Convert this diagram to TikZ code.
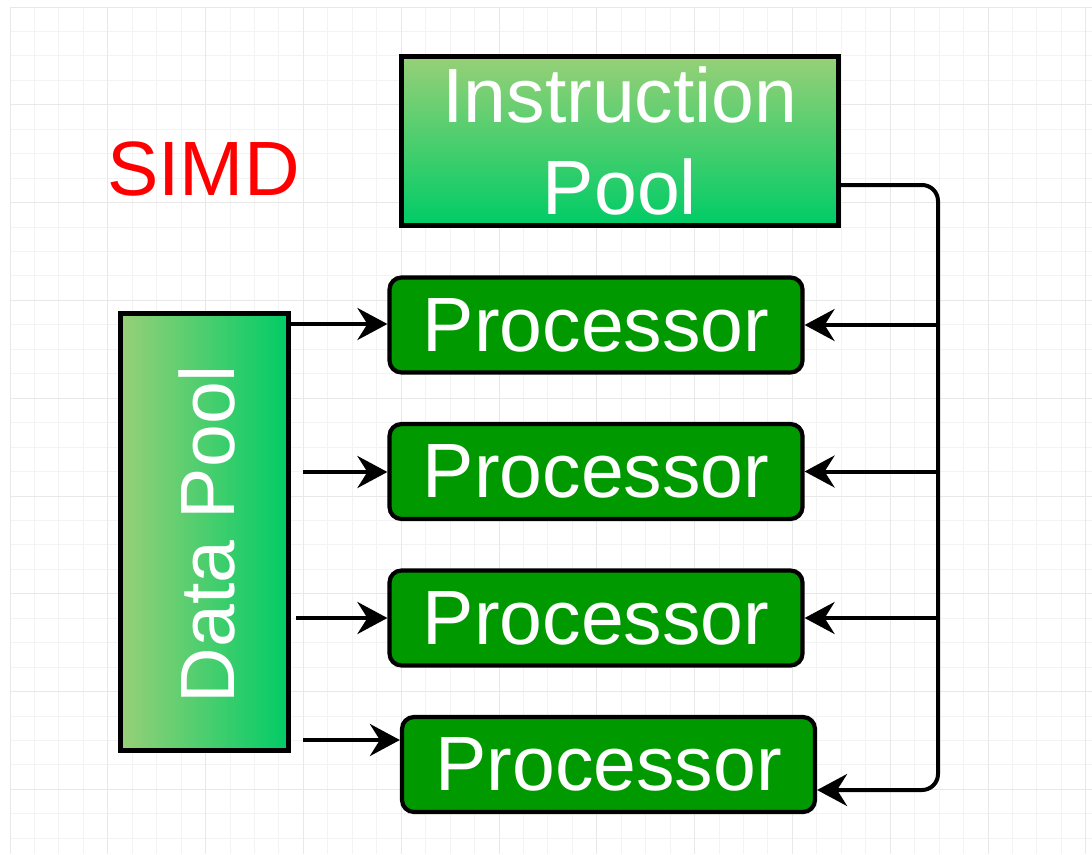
\documentclass[tikz,border=0pt]{standalone}
\usepackage{fontspec}
\setmainfont{Liberation Sans}
\usetikzlibrary{arrows.meta}
\definecolor{gradlight}{HTML}{97D077}
\definecolor{gradbright}{HTML}{00CC66}
\definecolor{procgreen}{HTML}{009900}
\definecolor{minorgray}{HTML}{F3F3F3}
\definecolor{majorgray}{HTML}{E8E8E8}
\definecolor{simdred}{HTML}{FF0000}
\tikzset{
  minorgrid/.style={draw=minorgray, line width=1pt},
  majorgrid/.style={draw=majorgray, line width=1pt},
  bigtext/.style={font=\fontsize{77}{92}\selectfont, text=white},
  procbox/.style={draw=black, line width=4.2pt, fill=procgreen, rounded corners=12pt,
    minimum width=413pt, minimum height=95pt, inner sep=0pt, bigtext},
  conn/.style={draw=black, line width=4pt,
    -{Stealth[length=30pt,width=32pt,inset=10pt]}},
  bus/.style={draw=black, line width=4pt}
}
\begin{document}
\begin{tikzpicture}[x=1pt,y=-1pt]
\useasboundingbox (0,0) rectangle (1092,854);
\fill[white] (0,0) rectangle (1092,854);
% grid
\foreach \i in {0,...,44} { \draw[minorgrid] ({10+\i*24.45},7) -- ({10+\i*24.45},854); }
\foreach \j in {0,...,34} { \draw[minorgrid] (10,{7+\j*24.45}) -- (1092,{7+\j*24.45}); }
\foreach \i in {0,...,11} { \draw[majorgrid] ({10+\i*97.8},7) -- ({10+\i*97.8},854); }
\foreach \j in {0,...,8} { \draw[majorgrid] (10,{7+\j*97.8}) -- (1092,{7+\j*97.8}); }

% title
\node[anchor=base west, inner sep=0pt, font=\fontsize{77}{90}\selectfont, text=simdred] (simd) at (107,195) {SIMD};

% instruction pool
\node[draw=black, line width=4.2pt, top color=gradlight, bottom color=gradbright,
  minimum width=437pt, minimum height=169pt, inner sep=0pt, align=center, bigtext]
  (ip) at (620,141) {Instruction\\Pool};

% data pool
\node[draw=black, line width=4.2pt, left color=gradlight, right color=gradbright,
  minimum width=168pt, minimum height=437pt, inner sep=0pt] (dp) at (204.5,532) {};
\node[bigtext, rotate=90, inner sep=0pt] (dptext) at (206.5,534) {Data Pool};

% processors
\node[procbox] (p1) at (596,325) {Processor};
\node[procbox] (p2) at (596,471.5) {Processor};
\node[procbox] (p3) at (596,618) {Processor};
\node[procbox] (p4) at (608.5,764.5) {Processor};

% data pool -> processors
\coordinate (d1) at (290,324);
\coordinate (d2) at (303,472);
\coordinate (d3) at (296,618);
\coordinate (d4) at (303,740);
\draw[conn] (d1) -- (d1 -| p1.west);
\draw[conn] (d2) -- (d2 -| p2.west);
\draw[conn] (d3) -- (d3 -| p3.west);
\draw[conn] (d4) -- (d4 -| p4.west);

% instruction bus
\coordinate (ipout) at ([yshift=-44pt]ip.east);
\coordinate (busx) at (938,0);
\coordinate (p4in) at ([yshift=-25.5pt]p4.east);
\draw[conn, rounded corners=16pt] (ipout) -- (ipout -| busx) -- (busx |- p4in) -- (p4in);
\draw[conn] (busx |- p1.east) -- (p1.east);
\draw[conn] (busx |- p2.east) -- (p2.east);
\draw[conn] (busx |- p3.east) -- (p3.east);
\end{tikzpicture}
\end{document}
